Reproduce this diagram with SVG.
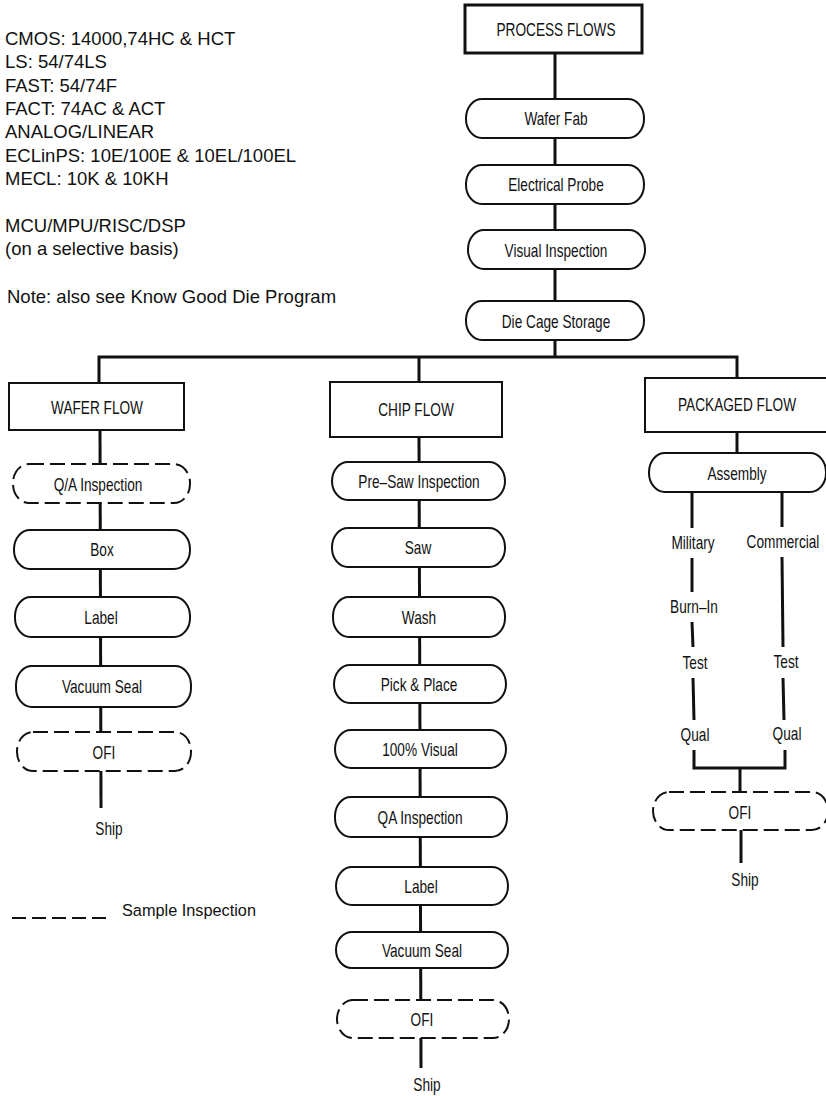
<svg xmlns="http://www.w3.org/2000/svg" width="826" height="1096" viewBox="0 0 826 1096">
<style>
.bg{fill:#ffffff}
.hdr{fill:#ffffff;stroke:#111;stroke-width:2}
.hdr2{fill:#ffffff;stroke:#111;stroke-width:3}
.pill{fill:#ffffff;stroke:#111;stroke-width:2}
.dash{fill:#ffffff;stroke:#111;stroke-width:2;stroke-dasharray:15 6}
.ln{stroke:#111;stroke-width:3;fill:none}
.t{font-family:"Liberation Sans",Arial,sans-serif;font-size:17.5px;fill:#111;text-anchor:middle}
.big{font-family:"Liberation Sans",Arial,sans-serif;font-size:18.5px;fill:#111}
.leg{font-family:"Liberation Sans",Arial,sans-serif;font-size:16.3px;fill:#111}
</style>
<rect class="bg" x="0" y="0" width="826" height="1096"/>

<g id="notes">
<text class="big" x="5" y="45">CMOS: 14000,74HC &amp; HCT</text>
<text class="big" x="5" y="68">LS: 54/74LS</text>
<text class="big" x="5" y="92">FAST: 54/74F</text>
<text class="big" x="5" y="115">FACT: 74AC &amp; ACT</text>
<text class="big" x="5" y="138">ANALOG/LINEAR</text>
<text class="big" x="5" y="162">ECLinPS: 10E/100E &amp; 10EL/100EL</text>
<text class="big" x="5" y="185">MECL: 10K &amp; 10KH</text>
<text class="big" x="5" y="232">MCU/MPU/RISC/DSP</text>
<text class="big" x="5" y="255">(on a selective basis)</text>
<text class="big" x="7" y="303">Note: also see Know Good Die Program</text>
</g>

<g id="connectors">
<line class="ln" x1="555" y1="53" x2="555" y2="357"/>
<polyline class="ln" points="99,383 99,357 737,357 737,378"/>
<line class="ln" x1="419" y1="357" x2="419" y2="382"/>
<line class="ln" x1="100" y1="430" x2="101" y2="808"/>
<line class="ln" x1="419" y1="437" x2="421" y2="1068"/>
<line class="ln" x1="737" y1="432" x2="737" y2="453"/>
<line class="ln" x1="692" y1="492" x2="692" y2="528"/>
<line class="ln" x1="692" y1="558" x2="692" y2="592"/>
<line class="ln" x1="692" y1="622" x2="693" y2="647"/>
<line class="ln" x1="693" y1="678" x2="694" y2="720"/>
<line class="ln" x1="782" y1="492" x2="782" y2="527"/>
<line class="ln" x1="782" y1="557" x2="783" y2="647"/>
<line class="ln" x1="783" y1="678" x2="784" y2="720"/>
<polyline class="ln" points="694,750 694,768 785,768 785,750"/>
<line class="ln" x1="740" y1="768" x2="740" y2="792"/>
<line class="ln" x1="741" y1="830" x2="741" y2="863"/>
</g>

<g id="process-flows">
<rect class="hdr2" x="465" y="5" width="177" height="48"/>
<text class="t" transform="translate(556,36) scale(0.78,1)">PROCESS FLOWS</text>
</g>
<g id="wafer-fab">
<rect class="pill" x="466" y="99" width="178" height="39" rx="16" ry="19"/>
<text class="t" transform="translate(556,125) scale(0.78,1)">Wafer Fab</text>
</g>
<g id="electrical-probe">
<rect class="pill" x="466" y="165" width="178" height="39" rx="16" ry="19"/>
<text class="t" transform="translate(556,191) scale(0.78,1)">Electrical Probe</text>
</g>
<g id="visual-inspection">
<rect class="pill" x="468" y="230" width="177" height="39" rx="16" ry="19"/>
<text class="t" transform="translate(556,257) scale(0.78,1)">Visual Inspection</text>
</g>
<g id="die-cage-storage">
<rect class="pill" x="466" y="301" width="178" height="39" rx="16" ry="19"/>
<text class="t" transform="translate(556,328) scale(0.78,1)">Die Cage Storage</text>
</g>

<g id="wafer-flow">
<rect class="hdr" x="9" y="383" width="175" height="47"/>
<text class="t" transform="translate(97,414) scale(0.78,1)">WAFER FLOW</text>
</g>
<g id="wf-qa">
<rect class="dash" x="13" y="464" width="177" height="39" rx="16" ry="19"/>
<text class="t" transform="translate(98,491) scale(0.78,1)">Q/A Inspection</text>
</g>
<g id="wf-box">
<rect class="pill" x="14" y="530" width="176" height="39" rx="16" ry="19"/>
<text class="t" transform="translate(102,556) scale(0.78,1)">Box</text>
</g>
<g id="wf-label">
<rect class="pill" x="15" y="597" width="175" height="40" rx="16" ry="19"/>
<text class="t" transform="translate(101,624) scale(0.78,1)">Label</text>
</g>
<g id="wf-vacuum">
<rect class="pill" x="16" y="666" width="175" height="41" rx="16" ry="19"/>
<text class="t" transform="translate(102,693) scale(0.78,1)">Vacuum Seal</text>
</g>
<g id="wf-ofi">
<rect class="dash" x="17" y="732" width="174" height="39" rx="16" ry="19"/>
<text class="t" transform="translate(104,759) scale(0.78,1)">OFI</text>
</g>
<g id="wf-ship">
<text class="t" transform="translate(109,835) scale(0.78,1)">Ship</text>
</g>

<g id="chip-flow">
<rect class="hdr" x="330" y="382" width="172" height="55"/>
<text class="t" transform="translate(416,416) scale(0.78,1)">CHIP FLOW</text>
</g>
<g id="cf-presaw">
<rect class="pill" x="332" y="462" width="173" height="38" rx="16" ry="19"/>
<text class="t" transform="translate(419,488) scale(0.78,1)">Pre–Saw Inspection</text>
</g>
<g id="cf-saw">
<rect class="pill" x="332" y="528" width="173" height="39" rx="16" ry="19"/>
<text class="t" transform="translate(418,554) scale(0.78,1)">Saw</text>
</g>
<g id="cf-wash">
<rect class="pill" x="333" y="597" width="172" height="40" rx="16" ry="19"/>
<text class="t" transform="translate(419,624) scale(0.78,1)">Wash</text>
</g>
<g id="cf-pick">
<rect class="pill" x="334" y="665" width="172" height="38" rx="16" ry="19"/>
<text class="t" transform="translate(419,691) scale(0.78,1)">Pick &amp; Place</text>
</g>
<g id="cf-visual">
<rect class="pill" x="335" y="730" width="171" height="38" rx="16" ry="19"/>
<text class="t" transform="translate(420,756) scale(0.78,1)">100% Visual</text>
</g>
<g id="cf-qa">
<rect class="pill" x="335" y="797" width="172" height="40" rx="16" ry="19"/>
<text class="t" transform="translate(420,824) scale(0.78,1)">QA Inspection</text>
</g>
<g id="cf-label">
<rect class="pill" x="336" y="867" width="172" height="38" rx="16" ry="19"/>
<text class="t" transform="translate(421,893) scale(0.78,1)">Label</text>
</g>
<g id="cf-vacuum">
<rect class="pill" x="336" y="932" width="172" height="36" rx="16" ry="18"/>
<text class="t" transform="translate(422,957) scale(0.78,1)">Vacuum Seal</text>
</g>
<g id="cf-ofi">
<rect class="dash" x="337" y="1000" width="172" height="38" rx="16" ry="19"/>
<text class="t" transform="translate(422,1026) scale(0.78,1)">OFI</text>
</g>
<g id="cf-ship">
<text class="t" transform="translate(427,1091) scale(0.78,1)">Ship</text>
</g>

<g id="packaged-flow">
<rect class="hdr" x="645" y="378" width="185" height="54"/>
<text class="t" transform="translate(737,411) scale(0.78,1)">PACKAGED FLOW</text>
</g>
<g id="pf-assembly">
<rect class="pill" x="649" y="453" width="177" height="39" rx="16" ry="19"/>
<text class="t" transform="translate(737,480) scale(0.78,1)">Assembly</text>
</g>
<g id="pf-military"><text class="t" transform="translate(693,549) scale(0.78,1)">Military</text></g>
<g id="pf-commercial"><text class="t" transform="translate(783,548) scale(0.78,1)">Commercial</text></g>
<g id="pf-burnin"><text class="t" transform="translate(694,613) scale(0.78,1)">Burn–In</text></g>
<g id="pf-test-mil"><text class="t" transform="translate(695,669) scale(0.78,1)">Test</text></g>
<g id="pf-test-com"><text class="t" transform="translate(786,668) scale(0.78,1)">Test</text></g>
<g id="pf-qual-mil"><text class="t" transform="translate(695,741) scale(0.78,1)">Qual</text></g>
<g id="pf-qual-com"><text class="t" transform="translate(787,740) scale(0.78,1)">Qual</text></g>
<g id="pf-ofi">
<rect class="dash" x="653" y="792" width="175" height="38" rx="16" ry="19"/>
<text class="t" transform="translate(740,819) scale(0.78,1)">OFI</text>
</g>
<g id="pf-ship">
<text class="t" transform="translate(745,886) scale(0.78,1)">Ship</text>
</g>

<g id="legend">
<line x1="12" y1="918" x2="108" y2="918" stroke="#111" stroke-width="2" stroke-dasharray="14 6"/>
<text class="leg" x="122" y="916">Sample Inspection</text>
</g>
</svg>
